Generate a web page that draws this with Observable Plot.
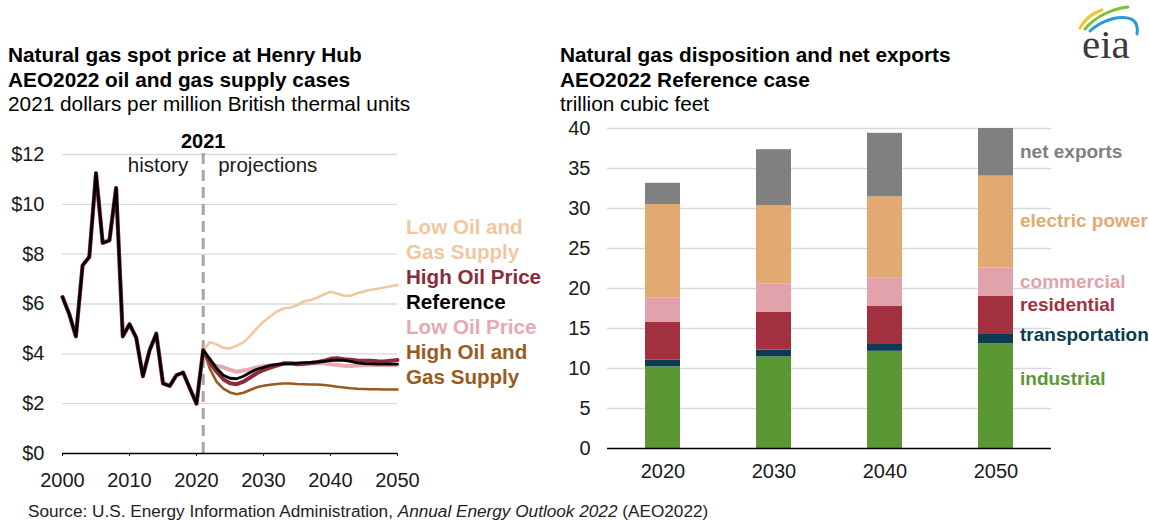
<!DOCTYPE html>
<html>
<head>
<meta charset="utf-8">
<script src="https://cdn.jsdelivr.net/npm/d3@7"></script>
<script src="https://cdn.jsdelivr.net/npm/@observablehq/plot@0.6"></script>
<style>
  html, body { margin: 0; padding: 0; background: #fff; }
  body { width: 1149px; height: 521px; position: relative; overflow: hidden;
         font-family: "Liberation Sans", Arial, sans-serif; color: #000; }
  .abs { position: absolute; white-space: nowrap; }
  .title { font-size: 20.8px; line-height: 24.5px; }
  .title b { font-weight: bold; }
  .lab { font-size: 19px; font-weight: bold; line-height: 25px; }
  .lab.l { font-size: 20.6px; }
</style>
</head>
<body>
<div class="abs title" style="left:8px; top:43px;"><b>Natural gas spot price at Henry Hub</b><br><b>AEO2022 oil and gas supply cases</b><br>2021 dollars per million British thermal units</div>
<div class="abs title" style="left:560px; top:43px;"><b>Natural gas disposition and net exports</b><br><b>AEO2022 Reference case</b><br>trillion cubic feet</div>
<div id="left" class="abs" style="left:0; top:120px;"></div>
<div id="right" class="abs" style="left:560px; top:110px;"></div>
<div id="leftLabels"></div>
<div id="rightLabels"></div>
<div class="abs" style="left:28px; top:501px; font-size:17.2px; color:#222;">Source: U.S. Energy Information Administration, <i>Annual Energy Outlook 2022</i> (AEO2022)</div>
<svg class="abs" style="left:1070px; top:0;" width="79" height="70" viewBox="0 0 79 70">
  <path d="M10 28 C 15 19, 23 13, 32 10" fill="none" stroke="#f2c530" stroke-width="3" stroke-linecap="round"/>
  <path d="M15 29 C 25 17, 41 9, 58 7" fill="none" stroke="#7fbf3a" stroke-width="3" stroke-linecap="round"/>
  <path d="M20 31 C 33 19, 53 14, 63 20 C 67 23, 68 28, 67 34" fill="none" stroke="#2a9bd6" stroke-width="3" stroke-linecap="round"/>
  <text x="12" y="58" font-family="Liberation Serif, Times New Roman, serif" font-size="41" fill="#3a3a3a">eia</text>
</svg>
<script>
// ---------------- Left chart data ----------------
const histYears = [2000,2001,2002,2003,2004,2005,2006,2007,2008,2009,2010,2011,2012,2013,2014,2015,2016,2017,2018,2019,2020,2021];
const histPrice = [6.28,5.6,4.7,7.55,7.89,11.25,8.45,8.55,10.66,4.7,5.19,4.65,3.1,4.14,4.81,2.81,2.71,3.14,3.25,2.62,2.0,4.15];
const projYears = [2021,2022,2023,2024,2025,2026,2027,2028,2029,2030,2031,2032,2033,2034,2035,2036,2037,2038,2039,2040,2041,2042,2043,2044,2045,2046,2047,2048,2049,2050];
const lowOilGasSupply = [4.15,4.47,4.38,4.24,4.22,4.33,4.46,4.72,5.02,5.29,5.5,5.7,5.82,5.86,5.95,6.1,6.16,6.25,6.38,6.49,6.42,6.33,6.33,6.43,6.5,6.57,6.61,6.66,6.71,6.76];
const highOilPrice = [4.15,3.65,3.28,2.98,2.82,2.78,2.88,3.05,3.22,3.35,3.45,3.53,3.62,3.62,3.58,3.6,3.63,3.66,3.72,3.8,3.82,3.78,3.76,3.73,3.72,3.72,3.7,3.69,3.72,3.75];
const reference = [4.15,3.8,3.42,3.14,3.02,3.0,3.1,3.25,3.38,3.46,3.54,3.58,3.6,3.61,3.63,3.65,3.66,3.68,3.7,3.73,3.75,3.74,3.7,3.64,3.61,3.6,3.59,3.59,3.59,3.59];
const lowOilPrice = [4.15,3.62,3.52,3.46,3.36,3.28,3.33,3.38,3.45,3.5,3.53,3.56,3.6,3.61,3.6,3.59,3.61,3.63,3.62,3.58,3.55,3.52,3.51,3.53,3.55,3.55,3.55,3.55,3.55,3.55];
const highOilGasSupply = [4.15,3.4,2.88,2.6,2.45,2.38,2.44,2.55,2.66,2.72,2.76,2.79,2.81,2.81,2.79,2.78,2.77,2.77,2.75,2.72,2.68,2.65,2.62,2.6,2.59,2.58,2.58,2.57,2.57,2.57];
const priceTicks = [0,2,4,6,8,10,12];
const yearTicks = [2000,2010,2020,2030,2040,2050];
const splitYear = 2021;

// drawing order: later on top
const cases = [
  {name:"Low Oil and Gas Supply", values: lowOilGasSupply, color:"#f0c8a0", width:2.6},
  {name:"High Oil and Gas Supply", values: highOilGasSupply, color:"#985a1f", width:2.6},
  {name:"Low Oil Price", values: lowOilPrice, color:"#e8a8b2", width:4},
  {name:"High Oil Price", values: highOilPrice, color:"#8e2a3c", width:4},
  {name:"Reference", values: reference, color:"#000000", width:2.8}
];
function seriesRows(c) {
  const rows = histYears.map((y,i) => ({year:y, value:histPrice[i], case:c.name}));
  projYears.forEach((y,i) => { if (y > splitYear) rows.push({year:y, value:c.values[i], case:c.name}); });
  return rows;
}

const left = Plot.plot({
  width: 560, height: 370,
  marginLeft: 62, marginRight: 163, marginTop: 34, marginBottom: 37,
  style: {fontFamily: "'Liberation Sans', Arial, sans-serif", fontSize: "20px", color: "#1a1a1a", background: "transparent", overflow: "visible"},
  x: {domain: [2000, 2050], ticks: yearTicks, tickFormat: d => String(d), label: null, tickSize: 3, tickPadding: 16},
  y: {domain: [0, 12], ticks: priceTicks, tickFormat: d => "$" + d, label: null, tickSize: 0, tickPadding: 18},
  marks: [
    Plot.ruleY(priceTicks.filter(d => d > 0), {stroke: "#d9d9d9", strokeWidth: 1.3}),
    Plot.ruleX([splitYear], {y1: 0, y2: 12.05, stroke: "#a6a6a6", strokeWidth: 3, strokeDasharray: "11,6"}),
    Plot.ruleY([0], {stroke: "#000", strokeWidth: 1.3}),
    ...cases.map(c => Plot.line(seriesRows(c), {x: "year", y: "value", stroke: c.color, strokeWidth: c.width})),
    Plot.text([String(splitYear)], {x: [splitYear], text: d => d, frameAnchor: "top", lineAnchor: "middle", dy: -13, fontWeight: "bold", fill: "#000"}),
    Plot.text(["history"], {x: [splitYear], text: d => d, frameAnchor: "top", lineAnchor: "middle", dy: 11, dx: -15, textAnchor: "end", fill: "#1a1a1a", fontSize: 20.5}),
    Plot.text(["projections"], {x: [splitYear], text: d => d, frameAnchor: "top", lineAnchor: "middle", dy: 11, dx: 15, textAnchor: "start", fill: "#1a1a1a", fontSize: 20.5})
  ]
});
document.getElementById("left").appendChild(left);

// legend text for left chart
const leftLegend = [
  {text:"Low Oil and", color:"#efc7a0"},
  {text:"Gas Supply", color:"#efc7a0"},
  {text:"High Oil Price", color:"#8b2a3b"},
  {text:"Reference", color:"#000000"},
  {text:"Low Oil Price", color:"#e8a8b2"},
  {text:"High Oil and", color:"#9a5b1e"},
  {text:"Gas Supply", color:"#9a5b1e"}
];
const ll = document.getElementById("leftLabels");
leftLegend.forEach((d, i) => {
  const el = document.createElement("div");
  el.className = "abs lab l";
  el.style.left = "406px";
  el.style.top = (213.5 + i * 25) + "px";
  el.style.color = d.color;
  el.textContent = d.text;
  ll.appendChild(el);
});

// ---------------- Right chart data ----------------
const barYears = ["2020","2030","2040","2050"];
const categories = ["industrial","transportation","residential","commercial","electric power","net exports"];
const industrial = [10.2, 11.45, 12.15, 13.1];
const transportation = [0.85, 0.85, 0.85, 1.15];
const residential = [4.7, 4.75, 4.8, 4.75];
const commercial = [3.1, 3.55, 3.5, 3.55];
const electricPower = [11.65, 9.75, 10.15, 11.5];
const netExports = [2.65, 7.0, 7.95, 5.95];
const catColors = ["#5b9732","#0c3a52","#a33140","#e2a2ab","#e2aa72","#808080"];
const volTicks = [0,5,10,15,20,25,30,35,40];

const seriesByCat = [industrial, transportation, residential, commercial, electricPower, netExports];
const barRows = [];
barYears.forEach((yr, j) => categories.forEach((cat, k) => barRows.push({year: yr, category: cat, value: seriesByCat[k][j]})));

const right = Plot.plot({
  width: 589, height: 380,
  marginLeft: 47, marginRight: 98, marginTop: 18, marginBottom: 42,
  style: {fontFamily: "'Liberation Sans', Arial, sans-serif", fontSize: "20px", color: "#1a1a1a", background: "transparent", overflow: "visible"},
  x: {type: "band", domain: barYears, paddingInner: 0.685, paddingOuter: 0.3425, label: null, tickSize: 0, tickPadding: 15},
  y: {domain: [0, 40], ticks: volTicks, label: null, tickSize: 0, tickPadding: 17},
  color: {domain: categories, range: catColors},
  marks: [
    Plot.ruleY(volTicks.filter(d => d > 0), {stroke: "#d9d9d9", strokeWidth: 1.3}),
    Plot.barY(barRows, {x: "year", y: "value", fill: "category"}),
    Plot.ruleY([0], {stroke: "#000", strokeWidth: 1.3})
  ]
});
document.getElementById("right").appendChild(right);

const rightLegend = [
  {text:"net exports", color:"#7f7f7f", top:139},
  {text:"electric power", color:"#e2aa72", top:208},
  {text:"commercial", color:"#e2a2ab", top:269},
  {text:"residential", color:"#a33140", top:292},
  {text:"transportation", color:"#0c3a52", top:321.5},
  {text:"industrial", color:"#5b9732", top:366}
];
const rl = document.getElementById("rightLabels");
rightLegend.forEach(d => {
  const el = document.createElement("div");
  el.className = "abs lab";
  el.style.left = "1020px";
  el.style.top = d.top + "px";
  el.style.color = d.color;
  el.textContent = d.text;
  rl.appendChild(el);
});
</script>
</body>
</html>
